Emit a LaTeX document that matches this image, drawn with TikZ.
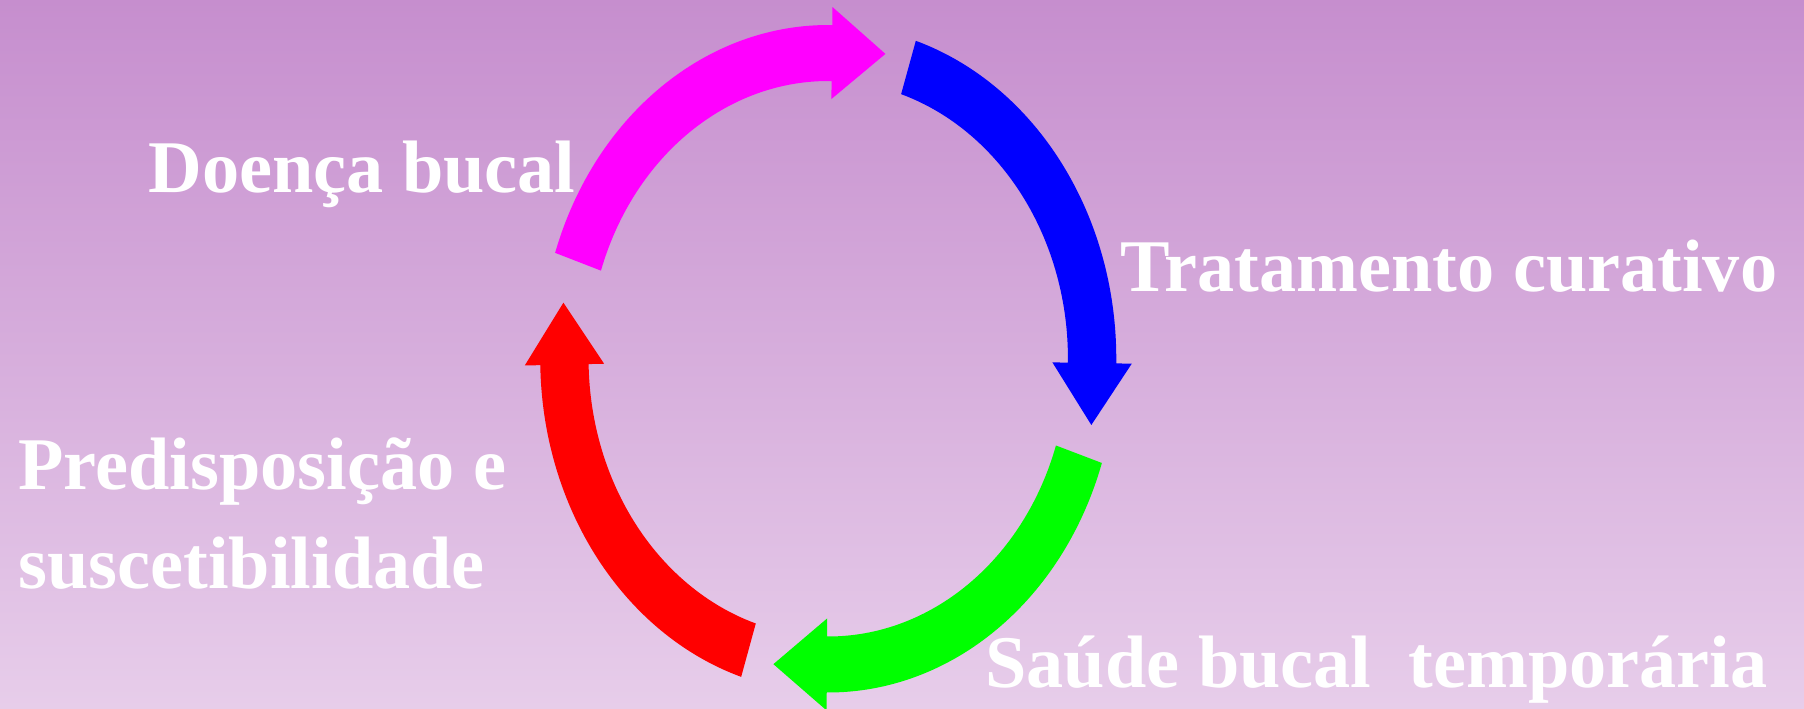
\documentclass[tikz,border=0pt]{standalone}
\usepackage{fontspec}
\setmainfont{Liberation Serif}
\definecolor{bgtop}{RGB}{198,142,206}
\definecolor{bgbottom}{RGB}{231,205,234}
\definecolor{doencacol}{RGB}{255,0,255}
\definecolor{tratcol}{RGB}{0,0,255}
\definecolor{saudecol}{RGB}{0,255,0}
\definecolor{predcol}{RGB}{255,0,0}
\tikzset{
  cyclelabel/.style={text=white, inner sep=0pt, align=left,
    font=\fontsize{37.15}{49.5}\selectfont\bfseries},
}
\begin{document}
\begin{tikzpicture}[x=0.5pt, y=0.5pt]
  \useasboundingbox (0,0) rectangle (1804,708);
  \clip (0,0) rectangle (1804,708);
  \shade[top color=bgtop, bottom color=bgbottom] (0,0) rectangle (1804,708);
  \begin{scope}[shift={(828.25,349.25)}, xscale=0.863]
    \foreach \s/\e/\col in {161.5/89.2/doencacol, 72.3/-0.8/tratcol, -18.2/-90.3/saudecol, 252.4/181.1/predcol}
      \fill[\col] (\s:333.75) arc[start angle=\s, end angle=\e, radius=333.75]
        -- (\e:351.75) -- (\e-11.46:311.97) -- (\e:259.75)
        -- (\e:277.75) arc[start angle=\e, end angle=\s, radius=277.75] -- cycle;
  \end{scope}
  \draw (148,515) node[cyclelabel, anchor=base west] (doenca) {Doença bucal};
  \draw (1120,416) node[cyclelabel, anchor=base west] (tratamento) {Tratamento curativo};
  \draw (985,21) node[cyclelabel, anchor=base west] (saude) {Saúde bucal\ \ temporária};
  \draw (18,120) node[cyclelabel, anchor=base west] (predisposicao) {Predisposição e\\suscetibilidade};
\end{tikzpicture}
\end{document}
